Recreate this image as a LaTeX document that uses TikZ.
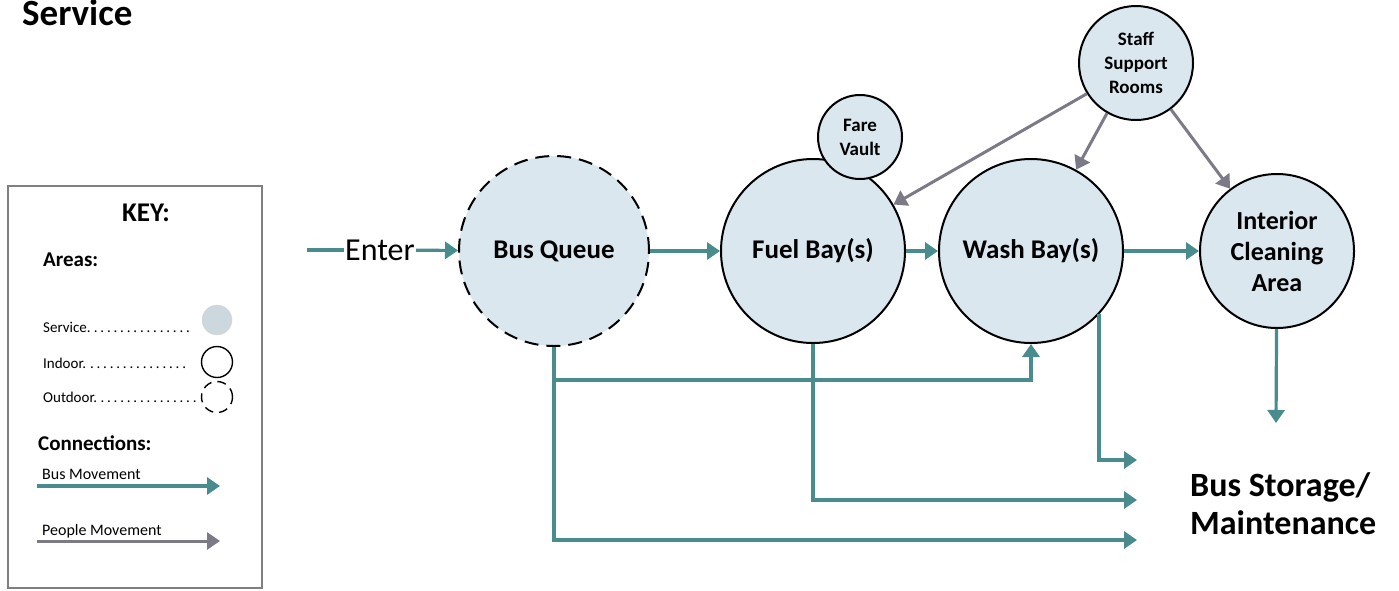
\documentclass[tikz,border=0pt]{standalone}
\usepackage{fontspec}
\setmainfont{Carlito}
\usetikzlibrary{positioning,arrows.meta}
\definecolor{busteal}{RGB}{72,140,142}
\definecolor{peoplegray}{RGB}{124,122,134}
\definecolor{areafill}{RGB}{218,231,239}

\begin{document}
\begin{tikzpicture}[x=1pt,y=-1pt,
		area/.style={circle,draw=black,line width=2pt,fill=areafill,inner sep=0pt,align=center,font=\bfseries\fontsize{27}{32}\selectfont},
		outdoor/.style={area,dash pattern=on 14pt off 8pt},
		room/.style={area,font=\bfseries\fontsize{19}{24}\selectfont},
		bus/.style={draw=busteal,line width=3.2pt,-{Triangle[width=17pt,length=13pt]}},
		people/.style={draw=peoplegray,line width=3pt,-{Triangle[width=17pt,length=13pt]}},
		keytext/.style={anchor=west,inner sep=0pt,font=\fontsize{15}{18}\selectfont},
		keyhead/.style={anchor=west,inner sep=0pt,font=\bfseries\fontsize{21}{25}\selectfont}]
		\useasboundingbox (0,0) rectangle (1399,590);
		\node[anchor=base west,inner sep=0pt,font=\bfseries\fontsize{37}{44}\selectfont]	(title)	at (22,25)	{Service};

		\node[draw=gray,line width=1.4pt,minimum width=254pt,minimum height=402pt,inner sep=0pt]	(key)	at (135,387)	{};
		\node[inner sep=0pt,font=\bfseries\fontsize{27}{30}\selectfont]	(keytitle)	at (146,213)	{KEY:};
		\node[keyhead]	(areas)	at (43,260)	{Areas:};
		\node[keytext]	(svc)	at (43,327)	{\hbox to 150pt{Service.\dotfill}};
		\node[keytext]	(ind)	at (43,363)	{\hbox to 147pt{Indoor.\dotfill}};
		\node[keytext]	(outd)	at (43,397)	{\hbox to 157pt{Outdoor.\dotfill}};
		\node[circle,fill=areafill!85!gray,draw=gray!30,minimum size=30pt,inner sep=0pt]	(ksvc)	at (217,320)	{};
		\node[circle,draw=black,line width=1.4pt,minimum size=31pt,inner sep=0pt]	(kin)	at (217,362)	{};
		\node[circle,draw=black,line width=1.4pt,dash pattern=on 9pt off 6pt,minimum size=31pt,inner sep=0pt]	(kout)	at (217,397)	{};
		\node[keyhead]	(conn)	at (38,443)	{Connections:};
		\node[keytext,font=\fontsize{16}{19}\selectfont]	(busmv)	at (42,474)	{Bus Movement};
		\node[keytext,font=\fontsize{16}{19}\selectfont]	(pplmv)	at (42,531)	{People Movement};
		\coordinate (kb1) at (37,486);
		\coordinate (kb2) at (220,486);
		\coordinate (kp1) at (37,541);
		\coordinate (kp2) at (220,541);
		\draw[bus] (kb1) -- (kb2);
		\draw[people] (kp1) -- (kp2);

		\node[outdoor,minimum size=190pt]	(queue)	at (554,251)	{Bus Queue};
		\node[area,minimum size=184pt,right=70pt of queue]	(fuel)	{Fuel Bay(s)};
		\node[area,minimum size=184pt,right=32pt of fuel]	(wash)	{Wash Bay(s)};
		\node[area,minimum size=154pt,font=\bfseries\fontsize{26}{31}\selectfont,right=75pt of wash]	(clean)	{Interior\\Cleaning\\Area};
		\node[room,minimum size=84pt]	(vault)	at (860,137)	{Fare\\Vault};
		\node[room,minimum size=114pt]	(staff)	at (1136,63)	{Staff\\Support\\Rooms};
		\node[inner sep=1pt,font=\fontsize{32}{38}\selectfont]	(enter)	at (380,250)	{Enter};
		\node[anchor=west,align=left,inner sep=0pt,font=\bfseries\fontsize{34}{38}\selectfont]	(store)	at (1190,504)	{Bus Storage/\\Maintenance};

		\coordinate (in) at (307,250);
		\coordinate (qsplit) at (554,380);
		\coordinate (s1) at (1137,460);
		\coordinate (s2) at (1137,500);
		\coordinate (s3) at (1137,540);
		\coordinate (cout) at (1276,423);

		\draw[draw=busteal,line width=3.2pt] (in) -- (enter);
		\draw[bus] (enter) -- (queue);
		\draw[bus] (queue) -- (fuel);
		\draw[bus] (fuel) -- (wash);
		\draw[bus] (wash) -- (clean);
		\draw[bus] (clean) -- (cout);
		\draw[bus] (queue.south) |- (s3);
		\draw[bus] (fuel.south) |- (s2);
		\draw[bus] (wash.-43) |- (s1);
		\draw[bus] (qsplit) -| (wash.south);
		\draw[people] (staff.212) -- (fuel.30);
		\draw[people] (staff.240) -- (wash.61);
		\draw[people] (staff.307) -- (clean.127);
	\end{tikzpicture}
\end{document}
